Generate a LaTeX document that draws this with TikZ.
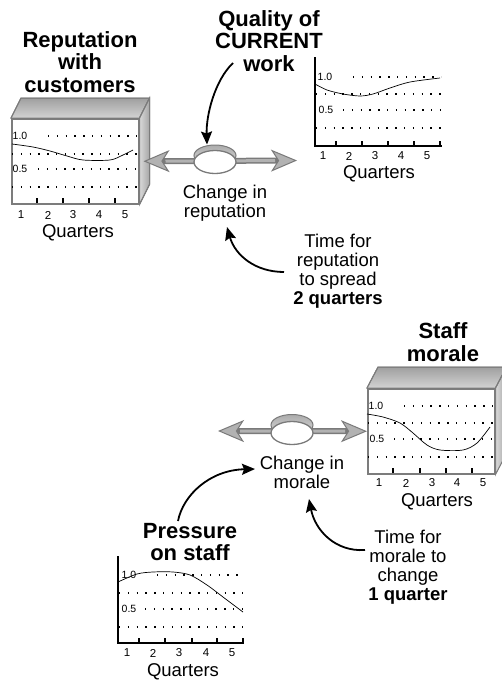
\documentclass[tikz,border=0pt]{standalone}
\usepackage{fontspec}
\setmainfont{Liberation Sans}
\usetikzlibrary{arrows.meta,shapes.geometric,calc}

\definecolor{pipedark}{HTML}{7A7A7A}
\definecolor{pipelight}{HTML}{B2B2B2}
\definecolor{boxedge}{HTML}{7C7C7C}

\begin{document}
\begin{tikzpicture}[x=1pt,y=-1pt,
  title/.style={font=\fontsize{22}{22.5}\selectfont\bfseries, align=center, inner sep=0pt},
  label/.style={font=\fontsize{18.5}{19}\selectfont, align=center, inner sep=0pt},
  ticknum/.style={font=\fontsize{11.5}{12}\selectfont, inner sep=0pt},
  gridnum/.style={font=\fontsize{10.5}{11}\selectfont, inner sep=0pt},
  axisname/.style={font=\fontsize{18.5}{19}\selectfont, inner sep=0pt},
  dots/.style={line width=1.3pt, dash pattern=on 1.3pt off 7.5pt},
  trend/.style={line width=0.7pt},
  axis/.style={line width=1.5pt, line cap=rect},
  tickmark/.style={line width=1.2pt},
  link/.style={line width=1.8pt, -{Stealth[length=13pt,width=11pt,inset=2pt]}},
  pipe/.style={line width=6pt, pipedark,
    {Stealth[length=26pt,width=22pt,inset=7pt,line width=1pt,fill=pipelight]}-{Stealth[length=26pt,width=22pt,inset=7pt,line width=1pt,fill=pipelight]}},
  pipecore/.style={line width=3pt, pipelight, shorten <=22pt, shorten >=22pt},
  stockface/.style={draw=boxedge, line width=1.5pt, fill=white, minimum width=127pt, minimum height=85pt, inner sep=0pt, anchor=north west},
  topface/.style={draw=boxedge, line width=1pt, top color=gray!75, bottom color=gray!35},
  sideface/.style={draw=boxedge, line width=1pt, left color=gray!30, right color=gray!70},
  valverim/.style={ellipse, draw=pipedark, line width=1pt, top color=gray!65, bottom color=gray!30, minimum width=42pt, minimum height=21pt, inner sep=0pt},
  valvebody/.style={ellipse, draw=pipedark, line width=1.3pt, fill=white, minimum width=42pt, minimum height=23pt, inner sep=0pt}
]
\useasboundingbox (0,0) rectangle (501,680);

% ---------- Stock: reputation with customers ----------
\node[title] (reptitle) at (80,62) {Reputation\\with\\customers};
\node[stockface] (repbox) at (11,118) {};
\fill[topface] (repbox.north west) -- ++(10,-20) -- ($(repbox.north east)+(10,-20)$) -- (repbox.north east) -- cycle;
\fill[sideface] (repbox.north east) -- ++(10,-20) -- ($(repbox.south east)+(10,-20)$) -- (repbox.south east) -- cycle;
\draw[boxedge, line width=1pt] (repbox.north west) -- ++(10,-20) -- ($(repbox.north east)+(10,-20)$) -- ($(repbox.south east)+(10,-20)$) -- (repbox.south east);
\draw[boxedge, line width=1pt] (repbox.north east) -- ++(10,-20);
\begin{scope}[shift={(11,118)}]
  \draw[dots] (37,18) -- (127,18);
  \draw[dots] (1,36) -- (127,36);
  \draw[dots] (27,51) -- (127,51);
  \draw[dots] (1,69) -- (127,69);
  \node[gridnum] at (9,18) {1.0};
  \node[gridnum] at (9,51) {0.5};
  \draw[trend] plot[smooth] coordinates {(1,26) (22,29) (39,33) (56,38) (72,42) (99,42) (112,37) (122,32)};
  \foreach \x in {26,52,78,104} \draw[tickmark] (\x,85) -- (\x,80);
  \foreach \x/\n in {10/1,37/2,62/3,88/4,114/5} \node[ticknum] at (\x,97) {\n};
  \node[axisname] at (67,115) {Quarters};
\end{scope}

% ---------- Inflow: quality of current work ----------
\node[title] (qualtitle) at (269,41) {Quality of\\CURRENT\\work};
\begin{scope}[shift={(315,146)}]
  \draw[dots] (38,-69) -- (126,-69);
  \draw[dots] (1,-52) -- (126,-52);
  \draw[dots] (28,-36) -- (126,-36);
  \draw[dots] (1,-18) -- (126,-18);
  \node[gridnum] at (10,-69) {1.0};
  \node[gridnum] at (11,-36) {0.5};
  \draw[trend] plot[smooth] coordinates {(0,-62) (12,-56) (28,-52) (45,-50) (58,-52) (75,-58) (95,-64) (125,-68)};
  \foreach \x in {21,47,73,99,125} \draw[tickmark] (\x,0) -- (\x,-5);
  \draw[axis] (0,-88) -- (0,0) -- (126,0);
  \foreach \x/\n in {8/1,34/2,60/3,86/4,112/5} \node[ticknum] at (\x,10) {\n};
  \node[axisname] at (64,28) {Quarters};
\end{scope}

% ---------- Flow: change in reputation ----------
\coordinate (p1stock) at ($(repbox.east)+(4,0)$);
\coordinate (p1end) at (297,160.5);
\draw[pipe] (p1stock) -- (p1end);
\draw[pipecore] (p1stock) -- (p1end);
\node[valverim] (v1rim) at (215,155.5) {};
\node[valvebody] (v1) at (215,162) {};
\node[label] (chg1) at (225,203) {Change in\\reputation};

\coordinate (qualfoot) at (233,63);
\draw[link] (qualfoot) .. controls (215,80) and (206,115) .. ([xshift=-8pt]v1rim.north);

\node[label] (time1) at (338,271) {Time for\\reputation\\to spread\\\textbf{2 quarters}};
\coordinate (time1side) at (284,272);
\coordinate (chg1foot) at (227,227);
\draw[link] (time1side) .. controls (255,272) and (235,255) .. (chg1foot);

% ---------- Stock: staff morale ----------
\node[title] (moraletitle) at (443,342) {Staff\\morale};
\node[stockface] (moralebox) at (367,388) {};
\fill[topface] (moralebox.north west) -- ++(11,-21) -- ($(moralebox.north east)+(11,-21)$) -- (moralebox.north east) -- cycle;
\fill[sideface] (moralebox.north east) -- ++(11,-21) -- ($(moralebox.south east)+(11,-21)$) -- (moralebox.south east) -- cycle;
\draw[boxedge, line width=1pt] (moralebox.north west) -- ++(11,-21) -- ($(moralebox.north east)+(11,-21)$);
\draw[boxedge, line width=1pt] (moralebox.north east) -- ++(11,-21);
\begin{scope}[shift={(367,388)}]
  \draw[dots] (37,18) -- (127,18);
  \draw[dots] (1,35) -- (127,35);
  \draw[dots] (27,51) -- (127,51);
  \draw[dots] (1,69) -- (127,69);
  \node[gridnum] at (9,18) {1.0};
  \node[gridnum] at (10,51) {0.5};
  \draw[trend] plot[smooth] coordinates {(0,26) (16,29) (33,35) (46,45) (60,57) (73,62) (96,62) (110,55) (123,39)};
  \foreach \x in {26,53,79,105} \draw[tickmark] (\x,85) -- (\x,80);
  \foreach \x/\n in {12/1,39/2,65/3,90/4,116/5} \node[ticknum] at (\x,95) {\n};
  \node[axisname] at (70,114) {Quarters};
\end{scope}

% ---------- Flow: change in morale ----------
\coordinate (p2end) at (218,431);
\draw[pipe] (p2end) -- (moralebox.west);
\draw[pipecore] (p2end) -- (moralebox.west);
\node[valverim] (v2rim) at (292,425) {};
\node[valvebody] (v2) at (292,433) {};
\node[label] (chg2) at (302,472) {Change in\\morale};

% ---------- Inflow: pressure on staff ----------
\node[title] (prestitle) at (190,542) {Pressure\\on staff};
\begin{scope}[shift={(118,643)}]
  \draw[dots] (39,-68) -- (125,-68);
  \draw[dots] (1,-50) -- (125,-50);
  \draw[dots] (27,-34) -- (125,-34);
  \draw[dots] (1,-16) -- (125,-16);
  \node[gridnum] at (11,-68) {1.0};
  \node[gridnum] at (11,-34) {0.5};
  \draw[trend] plot[smooth] coordinates {(0,-61) (19,-69) (35,-71) (55,-71) (72,-68) (89,-58) (105,-46) (125,-31)};
  \foreach \x in {21,47,74,99,125} \draw[tickmark] (\x,0) -- (\x,-5);
  \draw[axis] (0,-86) -- (0,0) -- (125,0);
  \foreach \x/\n in {9/1,35/2,61/3,88/4,114/5} \node[ticknum] at (\x,10) {\n};
  \node[axisname] at (65,29) {Quarters};
\end{scope}

\coordinate (presfoot) at (178,521);
\coordinate (chg2side) at (255,469);
\draw[link] (presfoot) .. controls (183,495) and (210,470) .. (chg2side);

\node[label] (time2) at (408,567) {Time for\\morale to\\change\\\textbf{1 quarter}};
\coordinate (time2side) at (365,550);
\coordinate (chg2foot) at (309,499);
\draw[link] (time2side) .. controls (335,552) and (315,530) .. (chg2foot);
\end{tikzpicture}
\end{document}
